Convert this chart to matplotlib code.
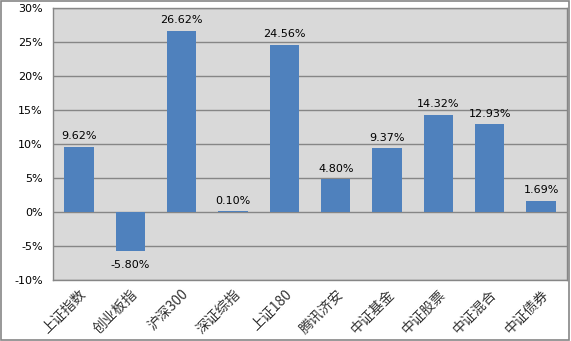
import matplotlib
matplotlib.use("Agg")
import matplotlib.pyplot as plt
from matplotlib.patches import Rectangle

categories = ["上证指数", "创业板指", "沪深300", "深证综指", "上证180",
              "腾讯济安", "中证基金", "中证股票", "中证混合", "中证债券"]
returns = [9.62, -5.80, 26.62, 0.10, 24.56, 4.80, 9.37, 14.32, 12.93, 1.69]
y_ticks = [-10, -5, 0, 5, 10, 15, 20, 25, 30]

plt.rcParams['font.family'] = ['Noto Sans CJK SC', 'DejaVu Sans']

fig = plt.figure(figsize=(5.71, 3.41), dpi=100)
ax = fig.add_axes([0.0934, 0.1789, 0.8991, 0.7976])

grid_col = "#868686"
ax.set_facecolor("#D9D9D9")
x = list(range(len(categories)))
ax.bar(x, returns, width=0.57, color="#4F81BD", zorder=3)

ax.set_ylim(-10, 30)
ax.set_xlim(-0.5, len(categories) - 0.5)
ax.set_yticks(y_ticks)
ax.set_yticklabels([f"{v}%" for v in y_ticks], family="DejaVu Sans", fontsize=8)
for v in y_ticks:
    ax.axhline(v, color=grid_col, lw=1, zorder=1)
ax.tick_params(axis="y", length=0, pad=7.5)
ax.tick_params(axis="x", length=0, pad=5)
ax.set_xticks(x)
ax.set_xticklabels(categories, rotation=45, ha="right", rotation_mode="anchor",
                   fontsize=10, color="#333333")
for s in ax.spines.values():
    s.set_color(grid_col)
    s.set_linewidth(1)

for xi, v in zip(x, returns):
    if v >= 0:
        ax.annotate(f"{v:.2f}%", (xi, v), xytext=(0, 4), textcoords="offset points",
                    ha="center", va="bottom", fontsize=8, family="DejaVu Sans", zorder=4)
    else:
        ax.annotate(f"{v:.2f}%", (xi, v), xytext=(0, -6), textcoords="offset points",
                    ha="center", va="top", fontsize=8, family="DejaVu Sans", zorder=4)

fig.patches.append(Rectangle((0.002, 0.004), 0.995, 0.992, transform=fig.transFigure,
                             fill=False, edgecolor=grid_col, lw=1.2))

fig.savefig("out.png", dpi=100)
